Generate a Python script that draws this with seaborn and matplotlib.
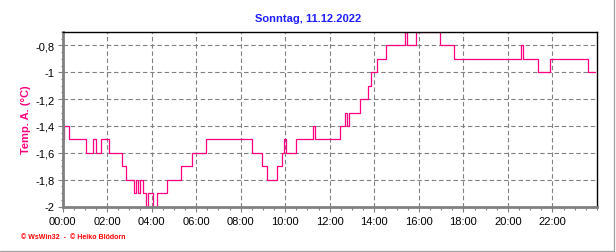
import matplotlib
matplotlib.use("Agg")
import matplotlib.pyplot as plt
from matplotlib.lines import Line2D
from matplotlib.ticker import MultipleLocator
import seaborn as sns
import pandas as pd

# ---- data ----
hours = [0.00, 0.05, 0.28, 1.04, 1.39, 1.52, 1.72, 2.09, 2.67, 2.87,
         3.20, 3.29, 3.38, 3.47, 3.62, 3.75,
         3.86, 4.06, 4.24, 4.67, 5.33, 5.82, 6.45, 8.52, 8.97, 9.20,
         9.65, 9.85, 9.96, 10.05, 10.50, 11.24, 11.33, 12.47, 12.69, 12.78,
         12.87, 13.38, 13.71, 13.85, 14.10, 14.52, 15.37, 15.47,
         15.88, 16.93, 17.57, 20.58, 20.69, 21.37, 21.89, 23.58, 23.92]
temps = [-1.5, -1.4, -1.5, -1.6, -1.5, -1.6, -1.5, -1.6, -1.7, -1.8,
         -1.9, -1.8, -1.9, -1.8, -1.9, -2.0,
         -1.9, -2.0, -1.9, -1.8, -1.7, -1.6, -1.5, -1.6, -1.7, -1.8,
         -1.7, -1.6, -1.5, -1.6, -1.5, -1.4, -1.5, -1.4, -1.3, -1.4,
         -1.3, -1.2, -1.1, -1.0, -0.9, -0.8, -0.7, -0.8,
         -0.7, -0.8, -0.9, -0.8, -0.9, -1.0, -0.9, -1.0, -1.0]

xtick_hours = [0, 2, 4, 6, 8, 10, 12, 14, 16, 18, 20, 22]
xtick_labels = ["00:00", "02:00", "04:00", "06:00", "08:00", "10:00",
                "12:00", "14:00", "16:00", "18:00", "20:00", "22:00"]
ytick_values = [-2.0, -1.8, -1.6, -1.4, -1.2, -1.0, -0.8]
ytick_labels = ["-2", "-1,8", "-1,6", "-1,4", "-1,2", "-1", "-0,8"]

title_text = "Sonntag, 11.12.2022"
ylabel_text = "Temp. A. (°C)"
footer_text = "© WsWin32  -  © Heiko Blödorn"

# ---- style ----
sns.set_style("white")
plt.rcParams["font.family"] = ["Liberation Sans", "DejaVu Sans"]

W, H = 616, 253
fig = plt.figure(figsize=(W / 100, H / 100), dpi=100, facecolor="white")
left, right, top, bottom = 62.5, 597, 33, 207.5
ax = fig.add_axes([left / W, 1 - bottom / H, (right - left) / W, (bottom - top) / H])
ax.set_facecolor("white")

df = pd.DataFrame({"hour": hours, "temp": temps})
sns.lineplot(data=df, x="hour", y="temp", ax=ax, color="#FF0080",
             linewidth=0.9, drawstyle="steps-post", estimator=None, sort=False)

ax.set_xlim(0, 24)
ax.set_ylim(-2.0, -0.7)
ax.set_xticks(xtick_hours)
ax.set_xticklabels(xtick_labels)
ax.set_yticks(ytick_values)
ax.set_yticklabels(ytick_labels)
ax.xaxis.set_minor_locator(MultipleLocator(0.5))
ax.yaxis.set_minor_locator(MultipleLocator(0.05))
ax.set_xlabel("")
ax.set_ylabel("")

ax.grid(True, which="major", color="#808080", linestyle=(0, (4, 2.5)), linewidth=0.8)
ax.set_axisbelow(True)

for s in ["top", "right"]:
    ax.spines[s].set_color("black")
    ax.spines[s].set_linewidth(1.0)
for s in ["left", "bottom"]:
    ax.spines[s].set_color("#808080")
    ax.spines[s].set_linewidth(2.0)

ax.tick_params(which="major", direction="out", length=3.5, width=0.8,
               color="#808080", labelsize=8, labelcolor="black", pad=2)
ax.tick_params(which="minor", direction="out", length=1.8, width=0.8,
               color="#808080")
ax.tick_params(axis="x", which="both", top=False, bottom=True)
ax.tick_params(axis="x", which="major", pad=3.5)
ax.tick_params(axis="y", which="both", left=True, right=False)

fig.text(308 / W, 1 - 19 / H, title_text, ha="center", va="center",
         fontsize=8, fontweight="bold", color="#1E1EFF")
fig.text(26 / W, 1 - 120 / H, ylabel_text, ha="center", va="center",
         rotation=90, fontsize=8, fontweight="bold", color="#FF0080")
fig.text(21 / W, 1 - 238 / H, footer_text, ha="left", va="center",
         fontsize=5, fontweight="bold", color="#FF0000")

fig.add_artist(Line2D([0, 613.5 / W], [1 - 251.5 / H, 1 - 251.5 / H],
                      transform=fig.transFigure, color="#A0A0A0", linewidth=0.9))
fig.add_artist(Line2D([613.5 / W, 613.5 / W], [1, 1 - 251.5 / H],
                      transform=fig.transFigure, color="#A0A0A0", linewidth=0.9))

fig.savefig("out.png", dpi=100, facecolor="white")
